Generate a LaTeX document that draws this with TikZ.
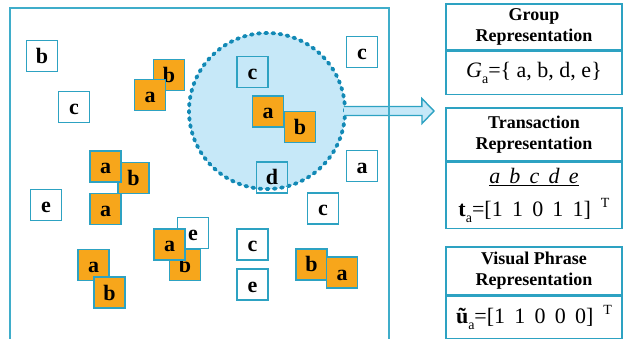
\documentclass[tikz,border=0pt]{standalone}
\usepackage{fontspec}
\setmainfont{Liberation Serif}
\usetikzlibrary{positioning}
\definecolor{lineblue}{HTML}{2DA2C2}
\definecolor{frameblue}{HTML}{3FADCA}
\definecolor{dotblue}{HTML}{1289B5}
\definecolor{areablue}{HTML}{C6E8F8}
\definecolor{itemorange}{HTML}{F7A61B}
\def\gap{\hspace{0.42em}}

\begin{document}
\begin{tikzpicture}[x=1pt,y=-1pt]
	\tikzstyle{item}=[rectangle,draw=lineblue,line width=1.1pt,minimum size=31pt,inner sep=0pt,text height=15pt,text depth=0pt,font=\fontsize{22}{22}\selectfont\bfseries]
	\tikzstyle{white item}=[item,fill=white]
	\tikzstyle{inner item}=[item,fill=none]
	\tikzstyle{orange item}=[item,fill=itemorange]
	\tikzstyle{group area}=[circle,fill=areablue,draw=dotblue,line width=3.8pt,dash pattern=on 2pt off 5.2pt,line cap=round,minimum size=156pt,inner sep=0pt]
	\tikzstyle{big arrow}=[fill=areablue,draw=lineblue,line width=1.4pt,line join=miter]
	\tikzstyle{head}=[rectangle,draw=lineblue,line width=1.3pt,minimum width=176pt,inner sep=0pt,align=center,font=\fontsize{18}{21}\selectfont\bfseries]
	\tikzstyle{body}=[rectangle,draw=lineblue,line width=1.3pt,minimum width=176pt,inner sep=0pt,align=center,font=\fontsize{22}{33}\selectfont]

	\useasboundingbox (0,0) rectangle (624,339);

	% Draw the lone items of the scene
	\foreach \name/\x/\y/\t in {1/42/56/b,2/74/107/c,3/46/205/e,4/362/52/c,5/362/166/a,6/323/208.5/c,7/252.5/244.5/c,8/252.5/284.5/e}
	\node[white item] (W-\name) at (\x,\y) {\t};

	% Draw the group area and its members
	\node[group area] (grp) at (267,111) {};
	\node[inner item] (G-c) at (252.5,72) {c};
	\node[inner item] (G-d) at (272,177.5) {d};
	\node[orange item] (G-a) at (268,111.5) {a};
	\node[orange item] (G-b) at (300,127) {b};

	% Draw the orange items (back to front)
	\foreach \name/\x/\y/\t in {1/169/75/b,2/150/95/a,3/133.5/178/b,4/105.5/166.5/a,5/105.5/209/a,6/185/265/b}
	\node[orange item] (O-\name) at (\x,\y) {\t};
	\node[white item] (W-9) at (193,233) {e};
	\foreach \name/\x/\y/\t in {7/169.5/244.5/a,8/93.5/265/a,9/109.5/292.5/b,10/311.5/264.5/b,11/342/272.5/a}
	\node[orange item] (O-\name) at (\x,\y) {\t};

	% Arrow from the group to the representations
	\coordinate (tip) at (434,111);
	\draw[big arrow] (grp.east) ++(-3,-4.5) -- ++(78,0) -- ++(0,-8) -- (tip) -- ++(-12,12.5) -- ++(0,-8) -- ++(-78,0);

	% Frame of the scene
	\draw[frameblue,line width=1.3pt] (10,345) -- (10,8) -- (389,8) -- (389,345);

	% Representation boxes
	\node[head,minimum height=46pt] (GR-H) at (534,27) {Group\\Representation};
	\node[body,minimum height=43pt,below=0pt of GR-H] (GR-B) {\itshape G\upshape\raisebox{-6pt}{\fontsize{14}{14}\selectfont a}=\{ a, b, d, e\}};

	\node[head,minimum height=53pt] (TR-H) at (534,134.5) {Transaction\\Representation};
	\node[body,minimum height=66pt,below=0pt of TR-H] (TR-B) {\underline{\itshape a\gap b\gap c\gap d\gap e}\\{\bfseries t}\raisebox{-6pt}{\fontsize{14}{14}\selectfont a}=[1\gap 1\gap 0\gap 1\gap 1]\hspace{0.45em}\raisebox{9pt}{\fontsize{14}{14}\selectfont T}};

	\node[head,minimum height=48pt] (VP-H) at (534,271) {Visual Phrase\\Representation};
	\node[body,minimum height=42pt,below=0pt of VP-H] (VP-B) {{\bfseries ũ}\raisebox{-6pt}{\fontsize{14}{14}\selectfont a}=[1\gap 1\gap 0\gap 0\gap 0]\hspace{0.45em}\raisebox{9pt}{\fontsize{14}{14}\selectfont T}};

\end{tikzpicture}
\end{document}
